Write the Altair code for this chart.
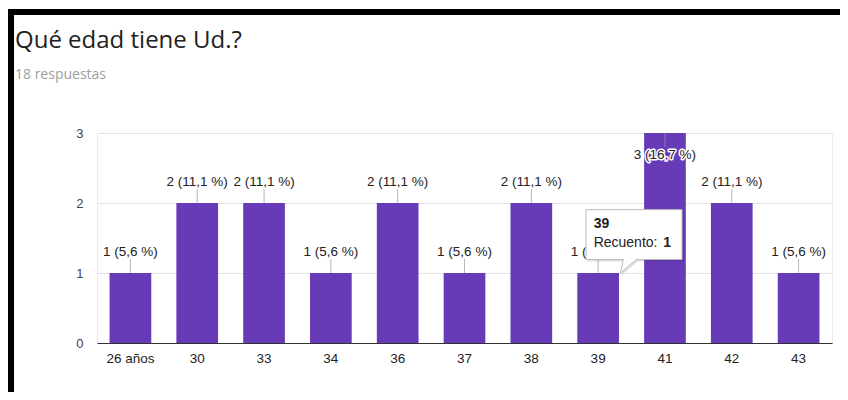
import altair as alt
import pandas as pd

# ---- data ----
categories = ["26 años", "30", "33", "34", "36", "37", "38", "39", "41", "42", "43"]
counts = [1, 2, 2, 1, 2, 1, 2, 1, 3, 2, 1]
total_responses = 18
hovered = "39"
title_text = "Qué edad tiene Ud.?"
subtitle_text = "18 respuestas"
tooltip_label = "Recuento: "

labels = [f"{c} ({c / total_responses * 100:.1f} %)".replace(".", ",") for c in counts]
df = pd.DataFrame({"cat": categories, "count": counts, "label": labels})

PURPLE = "#673ab7"
FONT = "Open Sans"
LFONT = "Liberation Sans"

x_enc = alt.X("cat:N", sort=categories, title=None,
              scale=alt.Scale(paddingInner=0.376, paddingOuter=0.188),
              axis=alt.Axis(labelAngle=0, ticks=False, domain=True, domainColor="#333333",
                            labelPadding=8, labelColor="#222222", labelFontSize=13.5,
                            labelFont=LFONT, grid=False))
y_enc = alt.Y("count:Q", title=None,
              scale=alt.Scale(domain=[0, 3], nice=False),
              axis=alt.Axis(values=[0, 0.5, 1, 1.5, 2, 2.5, 3],
                            labelExpr="datum.value % 1 === 0 ? format(datum.value, 'd') : ''",
                            grid=True,
                            gridColor=alt.condition("datum.value % 1 === 0",
                                                    alt.value("#e3e3e3"), alt.value("#f2f2f2")),
                            domain=False, ticks=False, labelPadding=14,
                            labelColor="#444444", labelFontSize=13, labelFont=LFONT))

base = alt.Chart(df).transform_joinaggregate(mx="max(count)")
X = alt.X("cat:N", sort=categories)

bars = base.mark_bar(color=PURPLE).encode(x=x_enc, y=y_enc)

stem_up = base.transform_filter("datum.count < datum.mx").mark_tick(
    orient="vertical", size=14, thickness=1, color="#999999", yOffset=-7
).encode(x=X, y="count:Q")
stem_in = base.transform_filter("datum.count >= datum.mx").mark_tick(
    orient="vertical", size=14, thickness=1, color="#999999", yOffset=7
).encode(x=X, y="count:Q")

def label_layer(filt, dy):
    halo = base.transform_filter(filt).mark_text(
        font=LFONT, fontSize=13.5, dy=dy, stroke="white", strokeWidth=3, color="white",
        strokeJoin="round"
    ).encode(x=X, y="count:Q", text="label:N")
    txt = base.transform_filter(filt).mark_text(
        font=LFONT, fontSize=13.5, dy=dy, color="#222222"
    ).encode(x=X, y="count:Q", text="label:N")
    return halo + txt

labels_up = label_layer("datum.count < datum.mx", -21)
labels_in = label_layer("datum.count >= datum.mx", 22)

# tooltip for the hovered bar
tip = base.transform_filter(alt.datum.cat == hovered)
box_path = ("M -1 -0.52 L 1 -0.52 L 1 0.52 L 0.048 0.52 L -0.285 0.8 "
            "L -0.223 0.52 L -1 0.52 Z")
shadow = tip.mark_point(shape=box_path, size=9216, filled=True, fill="#000000",
                        fillOpacity=0.12, strokeWidth=0, xOffset=37.5, yOffset=-36.5
                        ).encode(x=X, y="count:Q")
box = tip.mark_point(shape=box_path, size=9216, filled=True, fill="white",
                     stroke="#bbbbbb", strokeWidth=1, opacity=1, xOffset=35.9, yOffset=-38.4
                     ).encode(x=X, y="count:Q")
tip_title = tip.mark_text(font=LFONT, fontSize=14, fontWeight="bold",
                          align="left", color="#222222", dx=-4.5, dy=-49.4
                          ).encode(x=X, y="count:Q", text="cat:N")
tip_lbl = tip.transform_calculate(t=f"'{tooltip_label}'").mark_text(
    font=LFONT, fontSize=14, align="left", color="#222222", dx=-4.5, dy=-30
).encode(x=X, y="count:Q", text="t:N")
tip_val = tip.mark_text(font=LFONT, fontSize=14, fontWeight="bold",
                        align="left", color="#222222", dx=65, dy=-30
                        ).encode(x=X, y="count:Q", text="count:Q")

# heading texts and the black frame of the screenshot
one = alt.Chart(alt.Data(values=[{"k": 1}]))
title_mark = one.mark_text(font=FONT, fontSize=24, align="left", baseline="alphabetic",
                           color="#212121", text=title_text
                           ).encode(x=alt.value(-82), y=alt.value(-85))
subtitle_mark = one.mark_text(font=FONT, fontSize=14, align="left", baseline="alphabetic",
                              color="#9e9e9e", text=subtitle_text
                              ).encode(x=alt.value(-82), y=alt.value(-54))
frame_top = one.mark_rect(color="black").encode(
    x=alt.value(-89), x2=alt.value(743), y=alt.value(-124), y2=alt.value(-118))
frame_left = one.mark_rect(color="black").encode(
    x=alt.value(-89), x2=alt.value(-83), y=alt.value(-124), y2=alt.value(259))

chart = alt.layer(
    bars, stem_up, stem_in, labels_up, labels_in,
    shadow, box, tip_title, tip_lbl, tip_val,
    title_mark, subtitle_mark, frame_top, frame_left
).properties(
    width=735, height=210,
    autosize=alt.AutoSizeParams(type="none"),
    padding={"left": 89, "top": 125, "right": 8, "bottom": 49},
).configure_view(stroke="#ececec")

chart.save("out.html", embed_options={"renderer": "svg", "actions": False})
